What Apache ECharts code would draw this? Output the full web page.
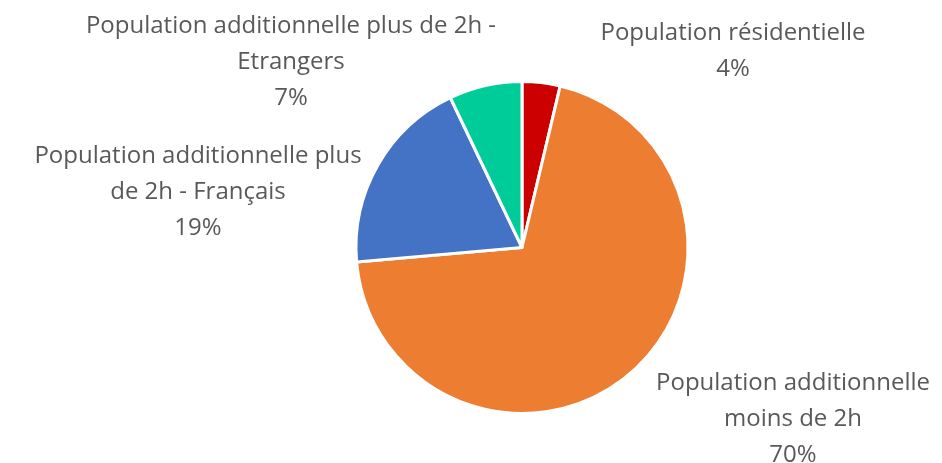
<!DOCTYPE html>
<html>
<head>
<meta charset="utf-8">
<script src="https://cdn.jsdelivr.net/npm/echarts@6/dist/echarts.min.js"></script>
<style>
  html, body { margin: 0; padding: 0; background: #fff; }
  #chart { width: 942px; height: 463px; }
</style>
</head>
<body>
<div id="chart"></div>
<script>
// categories in drawing order, clockwise from 12 o'clock
const categories = [
  'Population résidentielle',
  'Population additionnelle moins de 2h',
  'Population additionnelle plus de 2h - Français',
  'Population additionnelle plus de 2h - Etrangers'
];
// how the label text is wrapped in the picture
const labelTexts = [
  'Population résidentielle',
  'Population additionnelle\nmoins de 2h',
  'Population additionnelle plus\nde 2h - Français',
  'Population additionnelle plus de 2h -\nEtrangers'
];
const shares = [3.7, 69.9, 19.3, 7.1];
const colors = ['#CC0000', '#ED7D31', '#4472C4', '#00CC99'];

// label anchor points (centre of each text block)
const labelPos = [[733, 51], [793, 419], [198, 192], [291, 62]];

let myChart = echarts.init(document.getElementById('chart'));
let option = {
  animation: false,
  series: [{
    type: 'pie',
    center: [522, 247.5],
    radius: 166,
    startAngle: 90,
    clockwise: true,
    data: categories.map((c, i) => ({
      name: c,
      value: shares[i],
      itemStyle: { color: colors[i] }
    })),
    itemStyle: { borderColor: '#fff', borderWidth: 3 },
    label: {
      show: true,
      position: 'outside',
      overflow: 'none',
      color: '#595959',
      fontFamily: 'Open Sans',
      fontSize: 24,
      lineHeight: 36,
      align: 'center',
      formatter: p => labelTexts[p.dataIndex] + '\n' + Math.round(p.value) + '%'
    },
    labelLine: { show: false },
    labelLayout: p => ({
      x: labelPos[p.dataIndex][0],
      y: labelPos[p.dataIndex][1],
      align: 'center',
      verticalAlign: 'middle'
    })
  }]
};
myChart.setOption(option);
</script>
</body>
</html>
